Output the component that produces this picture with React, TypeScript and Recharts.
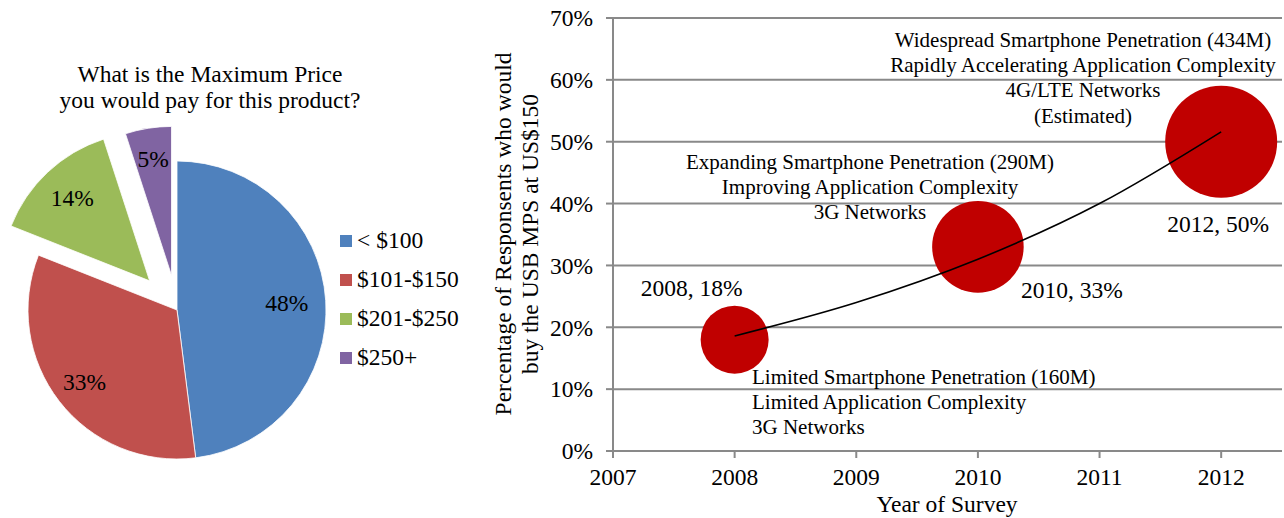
import {
  PieChart,
  Pie,
  Cell,
  Legend,
  ComposedChart,
  Scatter,
  XAxis,
  YAxis,
  ZAxis,
  CartesianGrid,
} from 'recharts'

// left: survey pie
const priceBands = ['< $100', '$101-$150', '$201-$250', '$250+']
const priceShares = [48, 33, 14, 5]

// right: bubble chart
const surveyYears = [2008, 2010, 2012]
const buyShare = [18, 33, 50]
const smartphonesM = [160, 290, 434]

// exponential trendline
const trendYears = [2008, 2009, 2010, 2011, 2012]
const trendShare = [18.6, 24, 31, 40, 51.6]

const yearTicks = [2007, 2008, 2009, 2010, 2011, 2012]
const pctTicks = [0, 10, 20, 30, 40, 50, 60, 70]

const annotTop = [
  'Widespread Smartphone Penetration (434M)',
  'Rapidly Accelerating Application Complexity',
  '4G/LTE Networks',
  '(Estimated)',
]
const annotMid = [
  'Expanding Smartphone Penetration (290M)',
  'Improving Application Complexity',
  '3G Networks',
]
const annotLow = [
  'Limited Smartphone Penetration (160M)',
  'Limited Application Complexity',
  '3G Networks',
]

const FONT = "'Liberation Serif', 'Times New Roman', serif"
const GRID = '#898989'
const BUBBLE = '#C00000'
const sliceColors = ['#4F81BD', '#C0504D', '#9BBB59', '#8064A2']
const sliceExplode = [0, 0, 40, 35]
const sliceLabelR = [110, 117, 113, 118]
const bubbleLabelOffset = [
  [-43, -52],
  [94, 43],
  [-3, 82],
]

const PIE_CX = 177
const PIE_CY = 310
const PIE_R = 149

const pieData = priceBands.map((name, i) => ({ name, value: priceShares[i] }))
const scatterData = surveyYears.map((year, i) => ({ year, pct: buyShare[i], z: smartphonesM[i] }))
const trendData = trendYears.map((year, i) => ({ year, trend: trendShare[i] }))

const total = priceShares.reduce((a, b) => a + b, 0)

// one pie layer for the slices that stay in place, one per pulled-out slice
const layers = [
  { show: sliceExplode.map((e) => e === 0), dx: 0, dy: 0 },
  ...sliceExplode
    .map((e, i) => ({ e, i }))
    .filter((s) => s.e > 0)
    .map(({ e, i }) => {
      const before = priceShares.slice(0, i).reduce((a, b) => a + b, 0)
      const mid = ((before + priceShares[i] / 2) / total) * 2 * Math.PI
      return {
        show: sliceExplode.map((_, j) => j === i),
        dx: e * Math.sin(mid),
        dy: -e * Math.cos(mid),
      }
    }),
]

function PieLegend() {
  return (
    <div style={{ fontFamily: FONT, fontSize: 23.5, lineHeight: '39px', color: '#000' }}>
      {priceBands.map((b, i) => (
        <div key={b} style={{ display: 'flex', alignItems: 'center', height: 39 }}>
          <span style={{ width: 12, height: 12, background: sliceColors[i], marginRight: 5 }} />
          {b}
        </div>
      ))}
    </div>
  )
}

function Bubble(props: any) {
  const { cx, cy, width, index, payload } = props
  const [ox, oy] = bubbleLabelOffset[index] || [0, 0]
  return (
    <g>
      <circle cx={cx} cy={cy} r={width / 2} fill={BUBBLE} />
      <text
        x={cx + ox}
        y={cy + oy}
        textAnchor="middle"
        dominantBaseline="central"
        fontFamily={FONT}
        fontSize={23.5}
        fill="#000"
      >
        {payload.year}, {payload.pct}%
      </text>
    </g>
  )
}

function TextBlock({ lines, x, y, anchor }: { lines: string[]; x: number; y: number; anchor: 'start' | 'middle' }) {
  return (
    <text fontFamily={FONT} fontSize={21} fill="#000" textAnchor={anchor} dominantBaseline="central">
      {lines.map((l, i) => (
        <tspan key={i} x={x} y={y + i * 25.2}>
          {l}
        </tspan>
      ))}
    </text>
  )
}

export default function App() {
  const maxZ = Math.max(...smartphonesM)
  return (
    <div style={{ position: 'absolute', left: 0, top: 0, width: 1284, height: 518, background: '#fff', fontFamily: FONT }}>
      <div style={{ position: 'absolute', left: 0, top: 0 }}>
        <PieChart width={470} height={518} margin={{ top: 0, right: 0, bottom: 0, left: 0 }}>
          {layers.map((layer, li) => (
            <Pie
              key={li}
              data={pieData}
              dataKey="value"
              nameKey="name"
              cx={PIE_CX + layer.dx}
              cy={PIE_CY + layer.dy}
              outerRadius={PIE_R}
              startAngle={90}
              endAngle={-270}
              isAnimationActive={false}
              labelLine={false}
              label={(p: any) => {
                if (!layer.show[p.index]) return null
                const a = (-p.midAngle * Math.PI) / 180
                const r = sliceLabelR[p.index]
                return (
                  <text
                    key={`l${li}-${p.index}`}
                    x={p.cx + r * Math.cos(a)}
                    y={p.cy + r * Math.sin(a)}
                    textAnchor="middle"
                    dominantBaseline="central"
                    fontFamily={FONT}
                    fontSize={23.5}
                    fill="#000"
                  >
                    {priceShares[p.index]}%
                  </text>
                )
              }}
            >
              {pieData.map((d, i) => (
                <Cell
                  key={d.name}
                  fill={layer.show[i] ? sliceColors[i] : 'none'}
                  stroke={layer.show[i] ? '#fff' : 'none'}
                  strokeWidth={0.8}
                />
              ))}
            </Pie>
          ))}
          <Legend
            content={() => <PieLegend />}
            wrapperStyle={{ position: 'absolute', left: 340, top: 221, width: 130 }}
          />
        </PieChart>
      </div>

      <div style={{ position: 'absolute', left: 470, top: 0 }}>
        <ComposedChart width={814} height={518} margin={{ top: 18, right: 2, bottom: 7, left: 63 }}>
          <CartesianGrid vertical={false} stroke={GRID} strokeWidth={2} />
          <XAxis
            type="number"
            dataKey="year"
            domain={[2007, 2012.5]}
            ticks={yearTicks}
            allowDataOverflow
            height={60}
            stroke={GRID}
            strokeWidth={2}
            tickSize={7}
            tickMargin={10}
            tick={{ fontSize: 23.5, fill: '#000', fontFamily: FONT }}
          />
          <YAxis
            type="number"
            domain={[0, 70]}
            ticks={pctTicks}
            width={80}
            stroke={GRID}
            strokeWidth={2}
            tickSize={7}
            tickMargin={13}
            tickFormatter={(v) => `${v}%`}
            tick={{ fontSize: 23.5, fill: '#000', fontFamily: FONT }}
          />
          <ZAxis type="number" dataKey="z" domain={[0, maxZ]} range={[0, Math.PI * 56 * 56]} />
          <Scatter data={scatterData} dataKey="pct" fill={BUBBLE} shape={<Bubble />} isAnimationActive={false} />
          {/* trendline drawn as a second scatter so it sits above the bubbles */}
          <Scatter
            data={trendData}
            dataKey="trend"
            line={{ stroke: '#000', strokeWidth: 1.6 }}
            lineJointType="monotone"
            shape={() => <g />}
            isAnimationActive={false}
          />
        </ComposedChart>
      </div>

      <svg width={1284} height={518} style={{ position: 'absolute', left: 0, top: 0, pointerEvents: 'none' }}>
        <text fontFamily={FONT} fontSize={23.5} fill="#000" textAnchor="middle">
          <tspan x={210} y={82}>What is the Maximum Price</tspan>
          <tspan x={210} y={108}>you would pay for this product?</tspan>
        </text>
        <text
          fontFamily={FONT}
          fontSize={23.5}
          fill="#000"
          textAnchor="middle"
          dominantBaseline="central"
          transform="rotate(-90 503 234)"
        >
          <tspan x={503} y={234}>Percentage of Responsents who would</tspan>
          <tspan x={503} y={261}>buy the USB MPS at US$150</tspan>
        </text>
        <text x={947} y={512} fontFamily={FONT} fontSize={23.5} fill="#000" textAnchor="middle">
          Year of Survey
        </text>
        <TextBlock lines={annotTop} x={1083} y={40} anchor="middle" />
        <TextBlock lines={annotMid} x={870} y={162} anchor="middle" />
        <TextBlock lines={annotLow} x={752} y={377} anchor="start" />
      </svg>
    </div>
  )
}
